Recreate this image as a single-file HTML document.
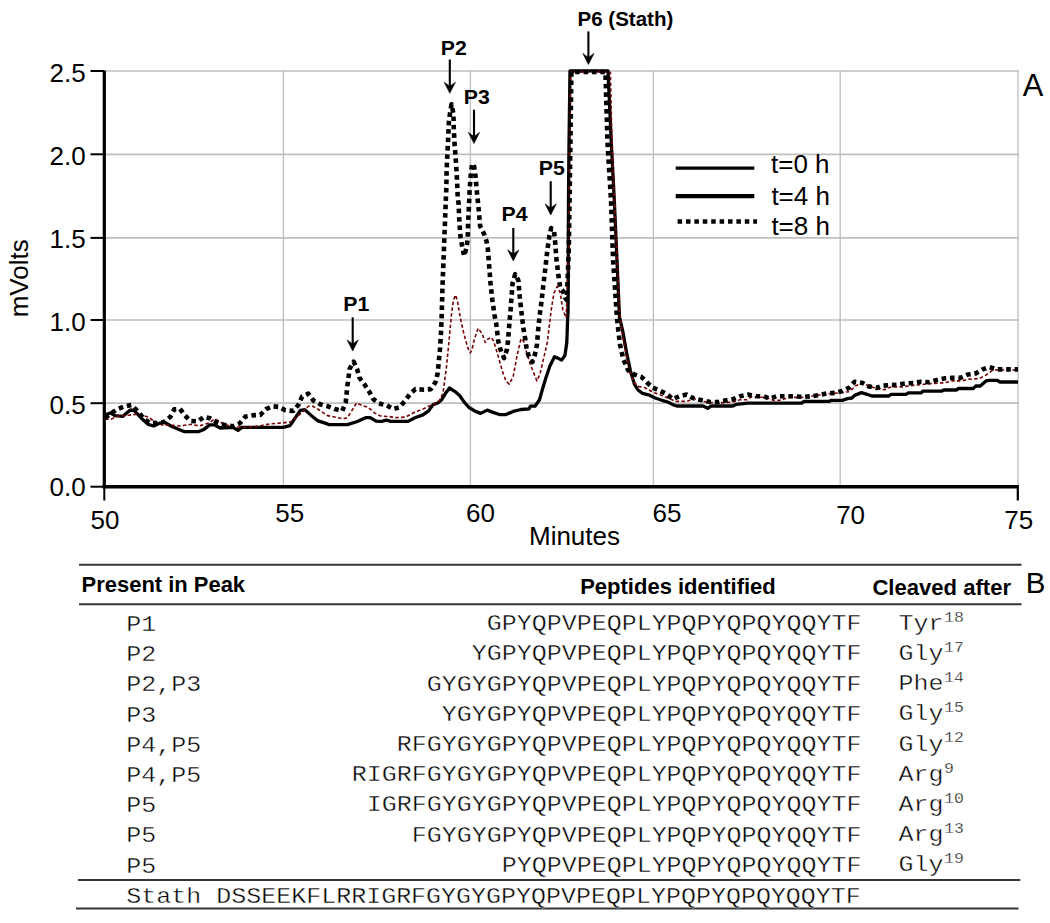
<!DOCTYPE html>
<html><head><meta charset="utf-8"><title>Figure</title>
<style>html,body{margin:0;padding:0;background:#fff;width:1050px;height:923px;overflow:hidden;}svg{display:block;font-family:"Liberation Sans",sans-serif;}</style></head>
<body>
<svg width="1050" height="923" viewBox="0 0 1050 923">
<rect width="1050" height="923" fill="#fff"/>
<line x1="104" y1="403.2" x2="1018.8" y2="403.2" stroke="#bfbfbf" stroke-width="1.7"/>
<line x1="104" y1="320.0" x2="1018.8" y2="320.0" stroke="#bfbfbf" stroke-width="1.7"/>
<line x1="104" y1="237.9" x2="1018.8" y2="237.9" stroke="#bfbfbf" stroke-width="1.7"/>
<line x1="104" y1="154.3" x2="1018.8" y2="154.3" stroke="#bfbfbf" stroke-width="1.7"/>
<line x1="104" y1="71.0" x2="1018.8" y2="71.0" stroke="#bfbfbf" stroke-width="1.7"/>
<line x1="283.4" y1="70.2" x2="283.4" y2="486.7" stroke="#bfbfbf" stroke-width="1.35"/>
<line x1="470.4" y1="70.2" x2="470.4" y2="486.7" stroke="#bfbfbf" stroke-width="1.35"/>
<line x1="653.4" y1="70.2" x2="653.4" y2="486.7" stroke="#bfbfbf" stroke-width="1.35"/>
<line x1="840.2" y1="70.2" x2="840.2" y2="486.7" stroke="#bfbfbf" stroke-width="1.35"/>
<line x1="1018.0" y1="70.2" x2="1018.0" y2="486.7" stroke="#bfbfbf" stroke-width="1.35"/>
<polyline points="105,415.1 110.3,412.9 114.9,415.7 122.9,416.3 130.3,410 134.3,410.6 141.1,418 148,424.3 153.7,426 158.3,423.7 164,422 170.9,426 178.9,429.4 184.6,431.7 198.3,431.7 204,429.4 209.7,424.9 214.3,424.9 220.3,428 232.9,427.4 238,430.3 242,427.4 283.1,427.4 290,425.7 300.3,410.3 304.9,409.7 310.6,414.9 317.4,420.6 324.3,422.9 329.1,424.6 347.4,424.6 356.6,421.7 365.7,417.7 370.3,417.7 376,421.1 381.7,421.4 386.3,420.2 390.9,421.4 408,421.4 414.9,417.7 422.9,414.9 428.6,410.9 433.1,404.6 437.8,403 441.7,399.7 445.6,393.2 449.5,388 454.7,391.3 459.9,395.8 463.8,401.7 469,407.5 475.5,411.4 480.7,413.4 487.2,410.1 492.4,412.1 500.2,414.7 505.4,414.7 513.2,411.4 521,409.5 529.1,408.8 530.4,406.2 535,406.2 539.5,399.7 542.8,388 546,377.6 549.9,365.9 554.5,356.8 557.7,358.1 561.6,360.1 564.9,355.5 566.8,342.5 567.5,323 568.1,310 568.5,200 569,145 570,70.8 608,70.8 611.4,145 614.3,200 619.5,317 622.7,330.8 626.6,352.9 630.5,371.1 634.4,384.1 638,390 642.6,393.4 649.4,395.1 655.1,398 662,400.3 667.7,402 673.4,404.9 676.9,406 703.1,406 707.7,408.3 711.1,406 732.9,406 736.3,404.3 748,403.1 801.7,403.1 804,401.4 829.1,401.4 831.4,400.3 842.9,400.3 847.4,398.6 852,398 854.6,395.4 861.4,392.6 867.1,394.3 871.7,396 888.9,396 891.1,394.3 906,394.3 908.3,392.8 920.9,392.8 923.1,391.2 941.4,391.2 943.7,390 956.3,390 958.6,388.5 973.4,388.5 975.7,386 980.3,386 986,380.9 989.4,380.3 997.4,380.3 999.7,382 1018,382" fill="none" stroke="#000" stroke-width="3.3" stroke-linejoin="round"/>
<polyline points="105.1,419.1 111.4,419.1 117.1,416.3 129.7,415.1 137.7,414 148,416.9 153.7,420.9 161.7,424.9 173.1,425.4 180,426 191.4,424.3 199.4,426 209.7,422.6 214.3,419.1 215.7,419.4 223.7,424 232.9,426.9 250,427.4 260.3,425.7 269.4,424 283.1,422.9 291.1,421.7 301.4,413.1 308.3,406.3 312.9,406.3 319.7,410.3 326.9,415.4 342.9,418.9 347.4,417.7 353.1,408.6 356.6,402.9 362.3,405.7 368,407.4 374.9,413.1 380.6,416 389.7,416.6 394.3,417.7 405.7,417.1 414.9,412 422.9,409.1 430.9,405.1 435.2,403.6 439.1,401 443,393.2 446.3,368.5 449.5,336 451.3,316 453.3,301 455.4,295 457.3,300 459.3,312 461.2,322 463.8,333.4 467,345 468.8,350.5 470.3,352.9 471.9,350 474.2,339.9 478.1,328.2 482,333.4 485.3,342.5 488,339 491.1,337.3 493.7,341.2 497.6,354.2 502.8,372.4 506,381 509.3,384.1 513.2,376.3 517.1,355.5 521,338.6 523.6,341.2 525.2,347.7 530.4,364.6 536.9,380.9 540,374 543.4,359.4 547.3,342.5 551.2,310 554,293 557.1,286.5 560,292 562.9,310 566.2,317.8 568.5,250 569.5,150 570.5,72 609,72 610.4,72.5 611.9,142.7 614.5,200 619.5,310 622.7,336 626.5,356 630,372.9 634.6,383.1 639.1,386.6 644.9,387.7 652.9,392.3 659.7,394.6 667.7,398 675.7,401.4 687.1,401.4 694,398.6 700.9,400.9 710,402.6 723.7,402.6 732.9,402 740,399.8 746.9,399.7 751.4,396.9 766.3,397.4 773.1,400.3 781.1,400.3 788,397.4 804,397.4 810.9,396.3 825.7,394 839.4,392.9 848.6,391.7 850,391.4 855.7,385.7 861.4,383.4 867.1,385.1 876.3,388.6 884.3,389.7 891.1,386.9 901.4,386.9 910.6,385.7 920.9,384.6 930,383.6 944.9,382.8 951.7,380.9 962,380.9 968.9,379.1 979.1,378.6 986,375.1 992.9,370 1018,370" fill="none" stroke="#760404" stroke-width="1.6" stroke-dasharray="3.5 2.3" stroke-linejoin="round"/>
<polyline points="105,418 110.3,414 117,409.4 124,406.6 131.4,404.9 137.1,410.6 143.4,418 149.1,422.6 157.1,423.1 164,422 170.3,416.9 174.3,409.4 180,408.9 184.6,415.1 190.3,420.9 197.7,421.4 204,416.9 210,418.3 216.9,422.3 224.9,425.1 232.9,426.3 239.7,423.4 245.4,416.6 252.3,415.4 260.3,414.9 266,409.1 272.9,406.3 278.6,406.9 285.4,410.3 293.4,410.9 299.1,404 302,396.6 308.3,393.7 313.4,400.6 320.9,404.6 328,406.3 334.9,409.1 342.3,410.9 345.7,402.3 347.4,385.7 349.7,368.6 353.7,361.7 357.1,369.1 359.4,377.7 364.6,384.6 369.1,391.4 373.1,398.9 378.9,403.4 386.3,405.1 393.1,409.1 399.4,407.4 405.1,400.6 410.3,393.7 415.4,389.1 424,389.7 430.9,389.1 435.4,382.3 437.7,373.1 438.5,364.6 440.1,347.7 441.1,330.8 441.7,315.2 442.4,289.7 443,272.8 443.7,255.9 444.3,239 445,222.1 445.6,205.5 446.3,188.8 446.6,171.9 447.3,155 448.2,138.1 448.9,121.2 450.2,112.1 451.5,104.3 453.4,113.4 453.8,129 454.7,145.9 456,162.8 457,179.7 457.7,196.6 458.6,203.9 459.3,220.8 460.6,237.7 462.5,248.1 464.1,255.9 466.4,248.1 467.7,239 468.1,223.4 469,205.2 469.7,188.8 471,171.9 472.3,163.5 474.2,166.7 475.5,175.8 476.6,188.8 477.9,201.8 478.8,210.4 480.1,226 484,233.8 486.6,241.6 487.9,249.4 489.2,266.3 490.5,283.2 492.4,300.1 494.4,314.4 496.3,324.3 498.3,341.2 500.2,349 504.1,358.1 506.7,350.3 508,341.2 509.3,324.3 510.6,310 511.3,300.1 512.6,283.2 515.2,274.1 518.4,280.6 519.7,296.2 521.7,314.4 523.6,329.5 525.2,338.6 526.5,347.7 528.5,355.5 532.4,362 535,354.2 536.9,345.1 538.2,329.5 539.5,317 541.5,301.4 543.4,284.5 545.4,267.6 547.3,250.7 549.3,236.4 551.2,228 554.1,231.9 555.1,241.6 556.4,258.5 558.4,275.4 560.3,288.4 562.9,291 564.9,297.5 566.8,300.1 568.8,250 570.3,150 571.4,72 605.3,72 605.6,77.4 607.5,142.7 611,200 613,258.5 616.9,317 618.2,329.5 620.1,345.1 623.4,359.4 627.9,369.8 630,372.3 634.6,374.6 641.4,376.9 647.1,382.6 652.9,387.7 659.7,390.6 666.6,394 672.9,399.1 679.1,396.3 686.6,394.6 694,398.6 702,400.3 710,402 718,402 726,400.3 733.4,399.1 740,396.3 748,394.6 756,396.3 764,396.3 769.7,398.6 776.6,396.3 785.7,396.3 794.9,396.3 802.9,396.9 810.9,396.3 818.9,395.1 826.9,393.4 834.9,392.9 842.3,391.1 849.1,387.7 854.6,381.7 862.6,382.9 868.3,386.3 876.3,388 882,385.7 890,385.1 898,384.6 906,383.4 914,382.9 920.9,381.7 928.9,382.3 936.9,380 944.9,378.3 952.9,377.7 960.9,377.7 967.7,374.6 975.7,373.4 982.6,369.4 989.4,367.1 997.4,369.4 1018,369.4" fill="none" stroke="#000" stroke-width="4.6" stroke-dasharray="4.6 3.8" stroke-linejoin="round"/>
<line x1="104.3" y1="70.5" x2="104.3" y2="488.3" stroke="#000" stroke-width="3.2"/>
<line x1="102.7" y1="486.7" x2="1018.8" y2="486.7" stroke="#000" stroke-width="3.6"/>
<line x1="90.5" y1="486.7" x2="104" y2="486.7" stroke="#000" stroke-width="2"/>
<line x1="90.5" y1="403.2" x2="104" y2="403.2" stroke="#000" stroke-width="2"/>
<line x1="90.5" y1="320.0" x2="104" y2="320.0" stroke="#000" stroke-width="2"/>
<line x1="90.5" y1="237.9" x2="104" y2="237.9" stroke="#000" stroke-width="2"/>
<line x1="90.5" y1="154.3" x2="104" y2="154.3" stroke="#000" stroke-width="2"/>
<line x1="90.5" y1="71.0" x2="104" y2="71.0" stroke="#000" stroke-width="2"/>
<line x1="104.3" y1="486.7" x2="104.3" y2="500.5" stroke="#000" stroke-width="2"/>
<line x1="1017.8" y1="486.7" x2="1017.8" y2="500.5" stroke="#000" stroke-width="2.2"/>
<text x="85.7" y="495.7" font-family="Liberation Sans, sans-serif" font-size="26" text-anchor="end">0.0</text>
<text x="85.7" y="413.7" font-family="Liberation Sans, sans-serif" font-size="26" text-anchor="end">0.5</text>
<text x="85.7" y="330.5" font-family="Liberation Sans, sans-serif" font-size="26" text-anchor="end">1.0</text>
<text x="85.7" y="248.4" font-family="Liberation Sans, sans-serif" font-size="26" text-anchor="end">1.5</text>
<text x="85.7" y="164.8" font-family="Liberation Sans, sans-serif" font-size="26" text-anchor="end">2.0</text>
<text x="85.7" y="81.5" font-family="Liberation Sans, sans-serif" font-size="26" text-anchor="end">2.5</text>
<text x="105.0" y="529.0" font-family="Liberation Sans, sans-serif" font-size="26" text-anchor="middle">50</text>
<text x="289.8" y="522.3" font-family="Liberation Sans, sans-serif" font-size="26" text-anchor="middle">55</text>
<text x="480.4" y="522.3" font-family="Liberation Sans, sans-serif" font-size="26" text-anchor="middle">60</text>
<text x="667.0" y="522.3" font-family="Liberation Sans, sans-serif" font-size="26" text-anchor="middle">65</text>
<text x="850.6" y="524.2" font-family="Liberation Sans, sans-serif" font-size="26" text-anchor="middle">70</text>
<text x="1018.8" y="529.0" font-family="Liberation Sans, sans-serif" font-size="26" text-anchor="middle">75</text>
<text x="574.5" y="544.8" font-family="Liberation Sans, sans-serif" font-size="26" text-anchor="middle">Minutes</text>
<text transform="translate(28.4,278.3) rotate(-90)" font-family="Liberation Sans, sans-serif" font-size="26" text-anchor="middle">mVolts</text>
<text x="1022.8" y="96.2" font-family="Liberation Sans, sans-serif" font-size="30.8">A</text>
<line x1="675.7" y1="168.2" x2="754.3" y2="168.2" stroke="#000" stroke-width="3.2"/>
<line x1="675.7" y1="196.1" x2="754.3" y2="196.1" stroke="#000" stroke-width="4.4"/>
<line x1="677.6" y1="221.5" x2="757" y2="221.5" stroke="#000" stroke-width="4.5" stroke-dasharray="4.5 3.9"/>
<text x="771" y="173.1" font-family="Liberation Sans, sans-serif" font-size="26">t=0 h</text>
<text x="771.4" y="205.0" font-family="Liberation Sans, sans-serif" font-size="26">t=4 h</text>
<text x="771.4" y="235.1" font-family="Liberation Sans, sans-serif" font-size="26">t=8 h</text>
<text transform="translate(343.2,311.2) scale(1.065,1)" font-family="Liberation Sans, sans-serif" font-size="20" font-weight="bold">P1</text>
<line x1="352.7" y1="317.3" x2="352.7" y2="345" stroke="#000" stroke-width="2.1"/><path d="M347.1,339.9 L352.7,351.0 L358.3,339.9 L352.7,344.0 Z" fill="#000" stroke="#000" stroke-width="0.6" stroke-linejoin="round"/>
<text transform="translate(440.7,55.1) scale(1.065,1)" font-family="Liberation Sans, sans-serif" font-size="20" font-weight="bold">P2</text>
<line x1="449.8" y1="59.5" x2="449.8" y2="87.3" stroke="#000" stroke-width="2.1"/><path d="M444.2,82.2 L449.8,93.3 L455.4,82.2 L449.8,86.3 Z" fill="#000" stroke="#000" stroke-width="0.6" stroke-linejoin="round"/>
<text transform="translate(463.7,103.7) scale(1.065,1)" font-family="Liberation Sans, sans-serif" font-size="20" font-weight="bold">P3</text>
<line x1="474.0" y1="109.7" x2="474.0" y2="137.5" stroke="#000" stroke-width="2.1"/><path d="M468.4,132.4 L474.0,143.5 L479.6,132.4 L474.0,136.5 Z" fill="#000" stroke="#000" stroke-width="0.6" stroke-linejoin="round"/>
<text transform="translate(501.5,221.0) scale(1.065,1)" font-family="Liberation Sans, sans-serif" font-size="20" font-weight="bold">P4</text>
<line x1="513.3" y1="228.0" x2="513.3" y2="255" stroke="#000" stroke-width="2.1"/><path d="M507.7,249.9 L513.3,261.0 L518.9,249.9 L513.3,254.0 Z" fill="#000" stroke="#000" stroke-width="0.6" stroke-linejoin="round"/>
<text transform="translate(538.8,174.5) scale(1.065,1)" font-family="Liberation Sans, sans-serif" font-size="20" font-weight="bold">P5</text>
<line x1="550.7" y1="181.2" x2="550.7" y2="209" stroke="#000" stroke-width="2.1"/><path d="M545.1,203.9 L550.7,215.0 L556.3,203.9 L550.7,208.0 Z" fill="#000" stroke="#000" stroke-width="0.6" stroke-linejoin="round"/>
<text transform="translate(577.6,26.1) scale(1.015,1)" font-family="Liberation Sans, sans-serif" font-size="20.2" font-weight="bold">P6 (Stath)</text>
<line x1="588.4" y1="31.4" x2="588.4" y2="58.5" stroke="#000" stroke-width="2.1"/><path d="M582.8,53.4 L588.4,64.5 L594.0,53.4 L588.4,57.5 Z" fill="#000" stroke="#000" stroke-width="0.6" stroke-linejoin="round"/>
<line x1="79" y1="564.8" x2="1021.5" y2="564.8" stroke="#363636" stroke-width="2"/>
<line x1="79" y1="604.2" x2="1021.5" y2="604.2" stroke="#363636" stroke-width="2"/>
<line x1="78" y1="880" x2="1020.3" y2="880" stroke="#363636" stroke-width="2"/>
<line x1="76" y1="908.5" x2="1018.5" y2="908.5" stroke="#363636" stroke-width="2"/>
<text transform="translate(81.6,591.9) scale(1.017,1)" font-family="Liberation Sans, sans-serif" font-size="21.6" font-weight="bold">Present in Peak</text>
<text transform="translate(580.2,593.6) scale(1.01,1)" font-family="Liberation Sans, sans-serif" font-size="21.8" font-weight="bold">Peptides identified</text>
<text transform="translate(872.4,594.6) scale(1.018,1)" font-family="Liberation Sans, sans-serif" font-size="21.7" font-weight="bold">Cleaved after</text>
<text x="1025.8" y="593" font-family="Liberation Sans, sans-serif" font-size="29.5">B</text>
<text transform="translate(126.3,631.0) scale(1,0.86)" font-family="Liberation Mono, monospace" font-size="25" text-anchor="start" fill="#000" stroke="#fff" stroke-width="0.45" xml:space="preserve">P1</text>
<text transform="translate(861.5,630.1) scale(1,0.86)" font-family="Liberation Mono, monospace" font-size="25" text-anchor="end" fill="#000" stroke="#fff" stroke-width="0.45" xml:space="preserve">GPYQPVPEQPLYPQPYQPQYQQYTF</text>
<text transform="translate(898.5,629.8) scale(1,0.86)" font-family="Liberation Mono, monospace" font-size="25" text-anchor="start" fill="#000" stroke="#fff" stroke-width="0.45" xml:space="preserve">Tyr</text>
<text transform="translate(944.0,621.5) scale(1,0.86)" font-family="Liberation Mono, monospace" font-size="16.5" text-anchor="start" fill="#000" stroke="#fff" stroke-width="0.4" xml:space="preserve">18</text>
<text transform="translate(126.3,661.2) scale(1,0.86)" font-family="Liberation Mono, monospace" font-size="25" text-anchor="start" fill="#000" stroke="#fff" stroke-width="0.45" xml:space="preserve">P2</text>
<text transform="translate(861.5,660.3) scale(1,0.86)" font-family="Liberation Mono, monospace" font-size="25" text-anchor="end" fill="#000" stroke="#fff" stroke-width="0.45" xml:space="preserve">YGPYQPVPEQPLYPQPYQPQYQQYTF</text>
<text transform="translate(898.5,660.0) scale(1,0.86)" font-family="Liberation Mono, monospace" font-size="25" text-anchor="start" fill="#000" stroke="#fff" stroke-width="0.45" xml:space="preserve">Gly</text>
<text transform="translate(944.0,651.7) scale(1,0.86)" font-family="Liberation Mono, monospace" font-size="16.5" text-anchor="start" fill="#000" stroke="#fff" stroke-width="0.4" xml:space="preserve">17</text>
<text transform="translate(126.3,691.4) scale(1,0.86)" font-family="Liberation Mono, monospace" font-size="25" text-anchor="start" fill="#000" stroke="#fff" stroke-width="0.45" xml:space="preserve">P2,P3</text>
<text transform="translate(861.5,690.5) scale(1,0.86)" font-family="Liberation Mono, monospace" font-size="25" text-anchor="end" fill="#000" stroke="#fff" stroke-width="0.45" xml:space="preserve">GYGYGPYQPVPEQPLYPQPYQPQYQQYTF</text>
<text transform="translate(898.5,690.2) scale(1,0.86)" font-family="Liberation Mono, monospace" font-size="25" text-anchor="start" fill="#000" stroke="#fff" stroke-width="0.45" xml:space="preserve">Phe</text>
<text transform="translate(944.0,681.9) scale(1,0.86)" font-family="Liberation Mono, monospace" font-size="16.5" text-anchor="start" fill="#000" stroke="#fff" stroke-width="0.4" xml:space="preserve">14</text>
<text transform="translate(126.3,721.6) scale(1,0.86)" font-family="Liberation Mono, monospace" font-size="25" text-anchor="start" fill="#000" stroke="#fff" stroke-width="0.45" xml:space="preserve">P3</text>
<text transform="translate(861.5,720.7) scale(1,0.86)" font-family="Liberation Mono, monospace" font-size="25" text-anchor="end" fill="#000" stroke="#fff" stroke-width="0.45" xml:space="preserve">YGYGPYQPVPEQPLYPQPYQPQYQQYTF</text>
<text transform="translate(898.5,720.4) scale(1,0.86)" font-family="Liberation Mono, monospace" font-size="25" text-anchor="start" fill="#000" stroke="#fff" stroke-width="0.45" xml:space="preserve">Gly</text>
<text transform="translate(944.0,712.1) scale(1,0.86)" font-family="Liberation Mono, monospace" font-size="16.5" text-anchor="start" fill="#000" stroke="#fff" stroke-width="0.4" xml:space="preserve">15</text>
<text transform="translate(126.3,751.8) scale(1,0.86)" font-family="Liberation Mono, monospace" font-size="25" text-anchor="start" fill="#000" stroke="#fff" stroke-width="0.45" xml:space="preserve">P4,P5</text>
<text transform="translate(861.5,750.9) scale(1,0.86)" font-family="Liberation Mono, monospace" font-size="25" text-anchor="end" fill="#000" stroke="#fff" stroke-width="0.45" xml:space="preserve">RFGYGYGPYQPVPEQPLYPQPYQPQYQQYTF</text>
<text transform="translate(898.5,750.6) scale(1,0.86)" font-family="Liberation Mono, monospace" font-size="25" text-anchor="start" fill="#000" stroke="#fff" stroke-width="0.45" xml:space="preserve">Gly</text>
<text transform="translate(944.0,742.3) scale(1,0.86)" font-family="Liberation Mono, monospace" font-size="16.5" text-anchor="start" fill="#000" stroke="#fff" stroke-width="0.4" xml:space="preserve">12</text>
<text transform="translate(126.3,782.0) scale(1,0.86)" font-family="Liberation Mono, monospace" font-size="25" text-anchor="start" fill="#000" stroke="#fff" stroke-width="0.45" xml:space="preserve">P4,P5</text>
<text transform="translate(861.5,781.1) scale(1,0.86)" font-family="Liberation Mono, monospace" font-size="25" text-anchor="end" fill="#000" stroke="#fff" stroke-width="0.45" xml:space="preserve">RIGRFGYGYGPYQPVPEQPLYPQPYQPQYQQYTF</text>
<text transform="translate(898.5,780.8) scale(1,0.86)" font-family="Liberation Mono, monospace" font-size="25" text-anchor="start" fill="#000" stroke="#fff" stroke-width="0.45" xml:space="preserve">Arg</text>
<text transform="translate(944.0,772.5) scale(1,0.86)" font-family="Liberation Mono, monospace" font-size="16.5" text-anchor="start" fill="#000" stroke="#fff" stroke-width="0.4" xml:space="preserve">9</text>
<text transform="translate(126.3,812.2) scale(1,0.86)" font-family="Liberation Mono, monospace" font-size="25" text-anchor="start" fill="#000" stroke="#fff" stroke-width="0.45" xml:space="preserve">P5</text>
<text transform="translate(861.5,811.3) scale(1,0.86)" font-family="Liberation Mono, monospace" font-size="25" text-anchor="end" fill="#000" stroke="#fff" stroke-width="0.45" xml:space="preserve">IGRFGYGYGPYQPVPEQPLYPQPYQPQYQQYTF</text>
<text transform="translate(898.5,811.0) scale(1,0.86)" font-family="Liberation Mono, monospace" font-size="25" text-anchor="start" fill="#000" stroke="#fff" stroke-width="0.45" xml:space="preserve">Arg</text>
<text transform="translate(944.0,802.7) scale(1,0.86)" font-family="Liberation Mono, monospace" font-size="16.5" text-anchor="start" fill="#000" stroke="#fff" stroke-width="0.4" xml:space="preserve">10</text>
<text transform="translate(126.3,842.4) scale(1,0.86)" font-family="Liberation Mono, monospace" font-size="25" text-anchor="start" fill="#000" stroke="#fff" stroke-width="0.45" xml:space="preserve">P5</text>
<text transform="translate(861.5,841.5) scale(1,0.86)" font-family="Liberation Mono, monospace" font-size="25" text-anchor="end" fill="#000" stroke="#fff" stroke-width="0.45" xml:space="preserve">FGYGYGPYQPVPEQPLYPQPYQPQYQQYTF</text>
<text transform="translate(898.5,841.2) scale(1,0.86)" font-family="Liberation Mono, monospace" font-size="25" text-anchor="start" fill="#000" stroke="#fff" stroke-width="0.45" xml:space="preserve">Arg</text>
<text transform="translate(944.0,832.9) scale(1,0.86)" font-family="Liberation Mono, monospace" font-size="16.5" text-anchor="start" fill="#000" stroke="#fff" stroke-width="0.4" xml:space="preserve">13</text>
<text transform="translate(126.3,872.6) scale(1,0.86)" font-family="Liberation Mono, monospace" font-size="25" text-anchor="start" fill="#000" stroke="#fff" stroke-width="0.45" xml:space="preserve">P5</text>
<text transform="translate(861.5,871.7) scale(1,0.86)" font-family="Liberation Mono, monospace" font-size="25" text-anchor="end" fill="#000" stroke="#fff" stroke-width="0.45" xml:space="preserve">PYQPVPEQPLYPQPYQPQYQQYTF</text>
<text transform="translate(898.5,871.4) scale(1,0.86)" font-family="Liberation Mono, monospace" font-size="25" text-anchor="start" fill="#000" stroke="#fff" stroke-width="0.45" xml:space="preserve">Gly</text>
<text transform="translate(944.0,863.1) scale(1,0.86)" font-family="Liberation Mono, monospace" font-size="16.5" text-anchor="start" fill="#000" stroke="#fff" stroke-width="0.4" xml:space="preserve">19</text>
<text transform="translate(126.3,902.5) scale(1,0.86)" font-family="Liberation Mono, monospace" font-size="25" text-anchor="start" fill="#000" stroke="#fff" stroke-width="0.45" xml:space="preserve">Stath DSSEEKFLRRIGRFGYGYGPYQPVPEQPLYPQPYQPQYQQYTF</text>
</svg>
</body></html>
